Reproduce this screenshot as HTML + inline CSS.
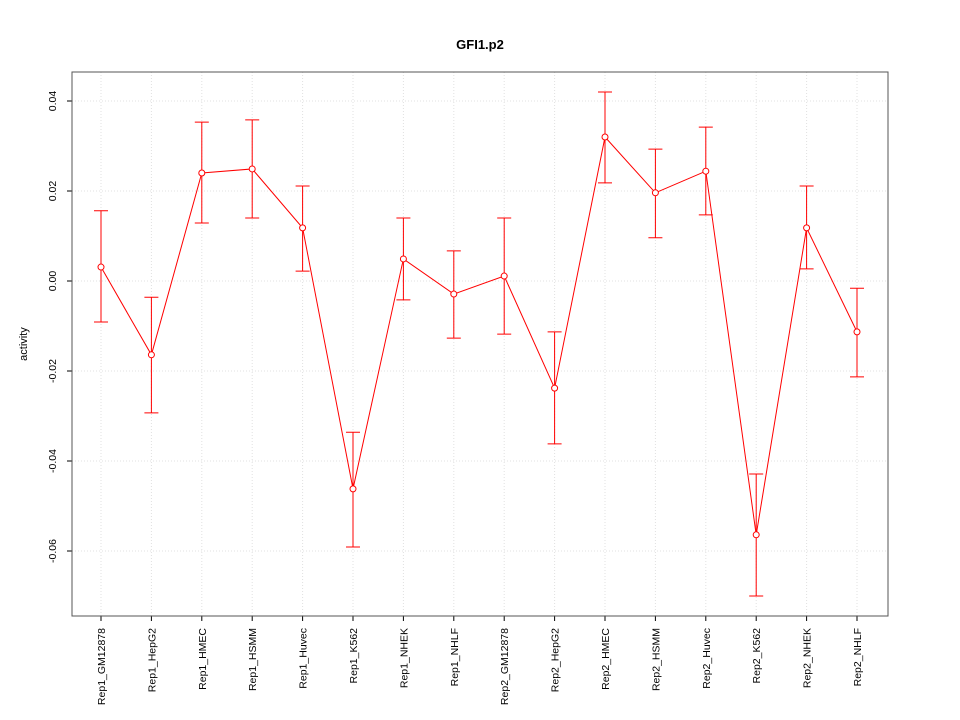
<!DOCTYPE html>
<html>
<head>
<meta charset="utf-8">
<style>
html,body{margin:0;padding:0;background:#fff;}
svg{display:block;font-family:"Liberation Sans",sans-serif;}
</style>
</head>
<body>
<svg id="chart" width="960" height="720" viewBox="0 0 960 720" xmlns="http://www.w3.org/2000/svg">
<text x="480" y="49" text-anchor="middle" font-size="13" font-weight="bold">GFI1.p2</text>
<text x="0" y="0" transform="translate(27,344) rotate(-90)" text-anchor="middle" font-size="11">activity</text>
<g id="grid"></g>
<g id="axes"></g>
<g id="series"></g>
<rect x="72" y="72" width="816" height="544" fill="none" stroke="#555" stroke-width="1"/>
</svg>
<script>
const categories = ["Rep1_GM12878","Rep1_HepG2","Rep1_HMEC","Rep1_HSMM","Rep1_Huvec","Rep1_K562","Rep1_NHEK","Rep1_NHLF","Rep2_GM12878","Rep2_HepG2","Rep2_HMEC","Rep2_HSMM","Rep2_Huvec","Rep2_K562","Rep2_NHEK","Rep2_NHLF"];
const values = [0.0031,-0.0164,0.024,0.0249,0.0118,-0.0462,0.0049,-0.0029,0.0011,-0.0238,0.032,0.0196,0.0244,-0.0564,0.0118,-0.0113];
const upper = [0.0156,-0.0036,0.0353,0.0358,0.0211,-0.0336,0.014,0.0067,0.014,-0.0113,0.042,0.0293,0.0342,-0.0429,0.0211,-0.0016];
const lower = [-0.0091,-0.0293,0.0129,0.014,0.0022,-0.0591,-0.0042,-0.0127,-0.0118,-0.0362,0.0218,0.0096,0.0147,-0.07,0.0027,-0.0213];
const yTicks = [-0.06,-0.04,-0.02,0.00,0.02,0.04];
const yTickLabels = ["-0.06","-0.04","-0.02","0.00","0.02","0.04"];

const NS = "http://www.w3.org/2000/svg";
function y(v){ return 281 - v*4500; }
function x(i){ return 101 + i*(857-101)/(categories.length-1); }
function mk(tag, attrs, parent){
  const e = document.createElementNS(NS, tag);
  for (const k in attrs) e.setAttribute(k, attrs[k]);
  parent.appendChild(e);
  return e;
}
const grid = document.getElementById('grid');
const axes = document.getElementById('axes');
const series = document.getElementById('series');

categories.forEach((c,i)=>{
  const g = mk('line',{x1:x(i),x2:x(i),y1:72,y2:616,stroke:'#e0e0e0','stroke-dasharray':'1,2'},grid);
  
  
  const t = mk('line',{x1:x(i),x2:x(i),y1:616,y2:621,stroke:'#000'},axes);
  
  
  const lb = mk('text',{transform:`translate(${x(i)+4},628) rotate(-90)`,'text-anchor':'end','font-size':'10.5'},axes);
  lb.textContent = c;
  
  
});
yTicks.forEach((v,i)=>{
  const g = mk('line',{x1:72,x2:888,y1:y(v),y2:y(v),stroke:'#e0e0e0','stroke-dasharray':'1,2'},grid);
  
  
  const t = mk('line',{x1:67,x2:72,y1:y(v),y2:y(v),stroke:'#000'},axes);
  
  
  const lb = mk('text',{transform:`translate(56,${y(v)}) rotate(-90)`,'text-anchor':'middle','font-size':'10.5'},axes);
  lb.textContent = yTickLabels[i];
  
  
});
const pts = values.map((v,i)=>x(i)+','+y(v)).join(' ');
const line = mk('polyline',{points:pts,fill:'none',stroke:'#ff0000','stroke-width':1},series);


values.forEach((v,i)=>{
  const xi = x(i);
  const eb = mk('path',{d:`M${xi},${y(lower[i])}V${y(upper[i])}M${xi-7},${y(upper[i])}H${xi+7}M${xi-7},${y(lower[i])}H${xi+7}`,stroke:'#ff0000',fill:'none'},series);
  
  
  const p = mk('circle',{cx:xi,cy:y(v),r:3,fill:'#fff',stroke:'#ff0000'},series);
  
  
});
</script>
</body>
</html>
